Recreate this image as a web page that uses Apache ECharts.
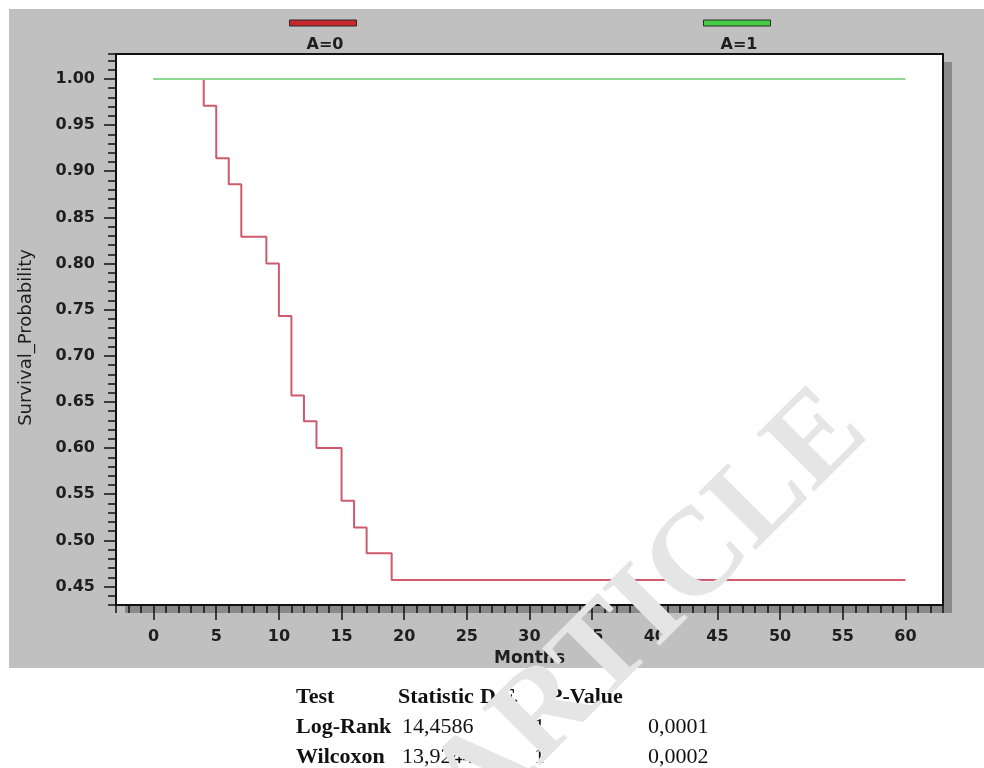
<!DOCTYPE html>
<html><head><meta charset="utf-8">
<script src="https://cdn.jsdelivr.net/npm/echarts@6/dist/echarts.min.js"></script>
<style>html,body{margin:0;padding:0;background:#fff;}#c{width:984px;height:768px;}</style>
</head><body><div id="c"></div>
<script>
// ---- data ----
const groupNames = ['A=0', 'A=1'];
const monthsA0 = [0, 4, 5, 6, 7, 9, 10, 11, 12, 13, 15, 16, 17, 19, 60];
const survA0   = [1.000, 0.971, 0.914, 0.886, 0.829, 0.800, 0.743, 0.657, 0.629, 0.600, 0.543, 0.514, 0.486, 0.457, 0.457];
const monthsA1 = [0, 60];
const survA1   = [1.000, 1.000];
const xTickValues = [0, 5, 10, 15, 20, 25, 30, 35, 40, 45, 50, 55, 60];
const yTickValues = [0.45, 0.50, 0.55, 0.60, 0.65, 0.70, 0.75, 0.80, 0.85, 0.90, 0.95, 1.00];
const tableHeader = ['Test', 'Statistic', 'D.F.', 'P-Value'];
const testNames = ['Log-Rank', 'Wilcoxon'];
const testStats = ['14,4586', '13,9244'];
const testDF = ['1', '1'];
const testP = ['0,0001', '0,0002'];
const watermark = 'ARTICLE';

const pairs = (xs, ys) => xs.map((x, i) => [x, ys[i]]);
const tickFont = { fontFamily: 'DejaVu Sans', fontWeight: 'bold', fontSize: 16, color: '#1e1e1e' };
const blackLine = { color: '#111', width: 1.5 };
const frameLine = { color: '#111', width: 2 };

// table graphic texts
const colX = [296, 398, 480, 549];
const rowY = [697, 727.5, 757];
const tableEls = [];
tableHeader.forEach((t, i) => tableEls.push({
  type: 'text', x: colX[i], y: rowY[0],
  style: { text: t, font: 'bold 22px "Liberation Serif"', fill: '#111', textAlign: 'left', textVerticalAlign: 'middle' }
}));
testNames.forEach((t, r) => {
  const y = rowY[r + 1];
  tableEls.push({ type: 'text', x: 296, y, style: { text: t, font: 'bold 22px "Liberation Serif"', fill: '#111', textVerticalAlign: 'middle' } });
  tableEls.push({ type: 'text', x: 402, y, style: { text: testStats[r], font: '22px "Liberation Serif"', fill: '#111', textVerticalAlign: 'middle' } });
  tableEls.push({ type: 'text', x: 534, y, style: { text: testDF[r], font: '22px "Liberation Serif"', fill: '#111', textVerticalAlign: 'middle' } });
  tableEls.push({ type: 'text', x: 648, y, style: { text: testP[r], font: '22px "Liberation Serif"', fill: '#111', textVerticalAlign: 'middle' } });
});

const legendCommon = {
  top: -26, itemWidth: 67, itemHeight: 6, selectedMode: false, icon: 'rect',
  formatter: '\n{name}',
  textStyle: { fontFamily: 'DejaVu Sans', fontWeight: 'bold', fontSize: 16, lineHeight: 44, color: '#1e1e1e', padding: [0, 0, 0, -55] }
};

const chart = echarts.init(document.getElementById('c'), null, { renderer: 'canvas' });
chart.setOption({
  animation: false,
  backgroundColor: '#ffffff',
  graphic: [
    { type: 'rect', z: -10, shape: { x: 9, y: 9, width: 975, height: 659 }, style: { fill: '#c0c0c0' } },
    ...tableEls,
    { type: 'text', z: 100, x: 650, y: 610, rotation: Math.PI / 4,
      style: { text: watermark, font: 'bold 124px "Liberation Serif"', fill: '#e5e5e5', textAlign: 'center', textVerticalAlign: 'middle' } }
  ],
  legend: [
    Object.assign({}, legendCommon, { left: 284, data: [{ name: groupNames[0], itemStyle: { color: '#c8282c', borderColor: '#2a2a2a', borderWidth: 1 } }] }),
    Object.assign({}, legendCommon, { left: 698, data: [{ name: groupNames[1], itemStyle: { color: '#44cc44', borderColor: '#2a2a2a', borderWidth: 1 } }] })
  ],
  grid: {
    show: true, left: 116, right: 41, top: 54, bottom: 163,
    backgroundColor: '#ffffff', borderWidth: 0,
    shadowColor: '#8a8a8a', shadowOffsetX: 9, shadowOffsetY: 8, shadowBlur: 0
  },
  xAxis: [
    { type: 'value', min: -3, max: 63, position: 'bottom',
      axisLine: { onZero: false, lineStyle: frameLine },
      axisTick: { customValues: xTickValues, length: 15, lineStyle: blackLine },
      axisLabel: { customValues: xTickValues, margin: 24, ...tickFont },
      splitLine: { show: false },
      name: 'Months', nameLocation: 'middle', nameGap: 45,
      nameTextStyle: { fontFamily: 'DejaVu Sans', fontWeight: 'bold', fontSize: 17, color: '#1e1e1e' } },
    { type: 'value', min: -3, max: 63, interval: 1, position: 'bottom',
      axisLine: { show: false, onZero: false },
      axisTick: { length: 8, lineStyle: blackLine },
      axisLabel: { show: false }, splitLine: { show: false } },
    { type: 'value', min: -3, max: 63, position: 'top',
      axisLine: { onZero: false, lineStyle: frameLine },
      axisTick: { show: false }, axisLabel: { show: false }, splitLine: { show: false } }
  ],
  yAxis: [
    { type: 'value', min: 0.43, max: 1.027, position: 'left',
      axisLine: { onZero: false, lineStyle: frameLine },
      axisTick: { customValues: yTickValues, length: 12, lineStyle: blackLine },
      axisLabel: { customValues: yTickValues, margin: 21, formatter: v => v.toFixed(2), ...tickFont },
      splitLine: { show: false },
      name: 'Survival_Probability', nameLocation: 'middle', nameGap: 81,
      nameTextStyle: { fontFamily: 'DejaVu Sans', fontSize: 18, color: '#1e1e1e', padding: [0, 16, 0, 0] } },
    { type: 'value', min: 0.43, max: 1.027, interval: 0.01, position: 'left',
      axisLine: { show: false, onZero: false },
      axisTick: { length: 8, lineStyle: blackLine },
      axisLabel: { show: false }, splitLine: { show: false } },
    { type: 'value', min: 0.43, max: 1.027, position: 'right',
      axisLine: { onZero: false, lineStyle: frameLine },
      axisTick: { show: false }, axisLabel: { show: false }, splitLine: { show: false } }
  ],
  series: [
    { name: groupNames[0], type: 'line', step: 'end', symbol: 'none', data: pairs(monthsA0, survA0),
      lineStyle: { color: '#cf5a6e', width: 2 }, itemStyle: { color: '#c8282c' }, z: 2 },
    { name: groupNames[1], type: 'line', step: 'end', symbol: 'none', data: pairs(monthsA1, survA1),
      lineStyle: { color: '#8fd68f', width: 2 }, itemStyle: { color: '#44cc44' }, z: 3 }
  ]
});
</script></body></html>
